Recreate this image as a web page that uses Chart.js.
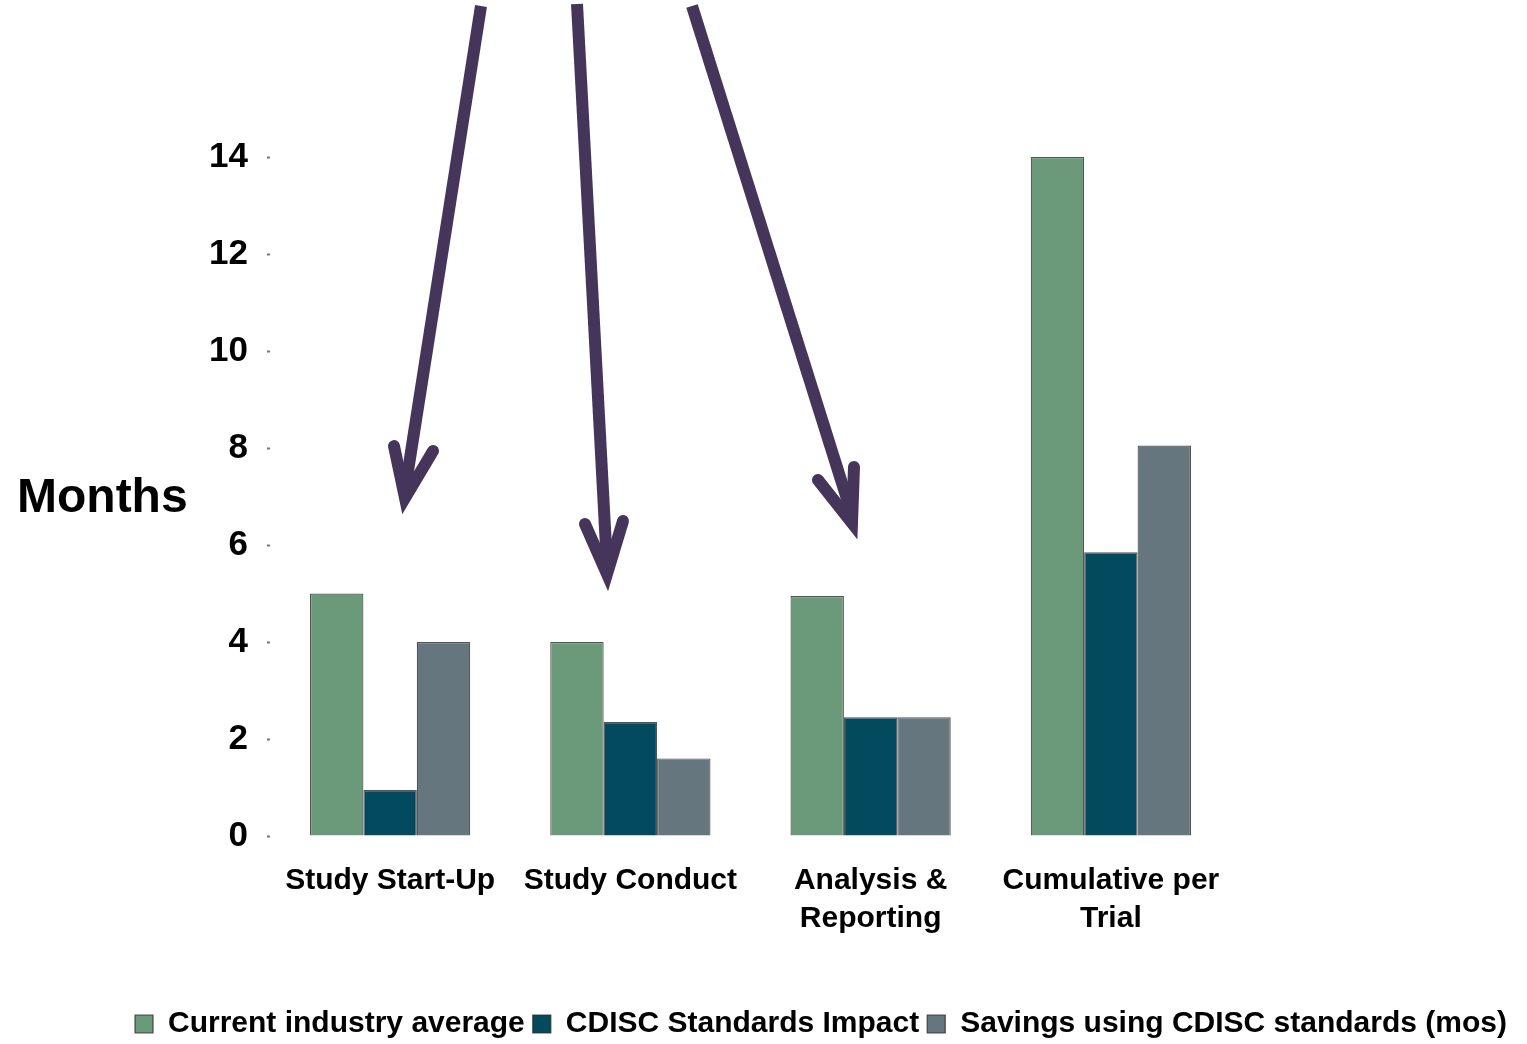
<!DOCTYPE html>
<html>
<head>
<meta charset="utf-8">
<script src="https://cdn.jsdelivr.net/npm/chart.js@4"></script>
<style>
  html, body { margin: 0; padding: 0; background: #ffffff; }
  #wrap { width: 1527px; height: 1044px; }
</style>
</head>
<body>
<div id="wrap"><canvas id="chart"></canvas></div>
<script>
// Chart data
const categories = ['Study Start-Up', 'Study Conduct', ['Analysis &', 'Reporting'], ['Cumulative per', 'Trial']];
const currentAverage = [5.0, 4.0, 4.95, 14.0];
const cdiscImpact = [0.95, 2.35, 2.45, 5.85];
const savings = [4.0, 1.6, 2.45, 8.05];
const seriesLabels = ['Current industry average', 'CDISC Standards Impact', 'Savings using CDISC standards (mos)'];
const yTicks = [0, 2, 4, 6, 8, 10, 12, 14];

const fontFamily = "'Liberation Sans', Arial, sans-serif";
const arrowColor = '#46355b';

// Hand-drawn style arrows pointing down at the first three groups.
// Each: shaft start, tip, two wing ends (pixels).
const arrows = [
  { from: [481, 6], tip: [405, 498], wings: [[394, 446], [433, 451]] },
  { from: [577, 4], tip: [607, 574], wings: [[585, 524], [623, 521]] },
  { from: [692, 6], tip: [852, 523], wings: [[818, 480], [854, 467]] },
];

const arrowPlugin = {
  id: 'arrows',
  afterDraw(chart) {
    const ctx = chart.ctx;
    ctx.save();
    ctx.strokeStyle = arrowColor;
    ctx.lineWidth = 12;
    ctx.miterLimit = 20;
    arrows.forEach((a) => {
      ctx.lineCap = 'butt';
      ctx.beginPath();
      ctx.moveTo(a.from[0], a.from[1]);
      ctx.lineTo(a.tip[0], a.tip[1] - 8);
      ctx.stroke();
      ctx.lineCap = 'round';
      ctx.lineJoin = 'miter';
      ctx.beginPath();
      ctx.moveTo(a.wings[0][0], a.wings[0][1]);
      ctx.lineTo(a.tip[0], a.tip[1]);
      ctx.lineTo(a.wings[1][0], a.wings[1][1]);
      ctx.stroke();
    });
    ctx.restore();
  },
};

// "Months" axis label, drawn horizontally left of the y axis
const monthsLabel = {
  id: 'monthsLabel',
  afterDraw(chart) {
    const ctx = chart.ctx;
    const y = chart.scales.y;
    ctx.save();
    ctx.fillStyle = '#000000';
    ctx.font = `bold 48px ${fontFamily}`;
    ctx.textAlign = 'left';
    ctx.textBaseline = 'middle';
    ctx.fillText('Months', 17, y.getPixelForValue(7) + 2);
    ctx.restore();
  },
};

new Chart(document.getElementById('chart'), {
  type: 'bar',
  data: {
    labels: categories,
    datasets: [
      { label: seriesLabels[0], data: currentAverage, backgroundColor: '#6b9a7b' },
      { label: seriesLabels[1], data: cdiscImpact, backgroundColor: '#044a5f' },
      { label: seriesLabels[2], data: savings, backgroundColor: '#66767f' },
    ].map((d) => ({
      ...d,
      borderColor: 'rgba(40,40,40,0.8)',
      borderWidth: 1.2,
      categoryPercentage: 0.667,
      barPercentage: 1.0,
    })),
  },
  options: {
    responsive: true,
    maintainAspectRatio: false,
    animation: false,
    layout: { padding: { left: 120, right: 5, top: 157, bottom: -5 } },
    scales: {
      x: {
        grid: { display: false, drawTicks: false },
        border: { display: false },
        ticks: {
          color: '#000000',
          font: { family: fontFamily, size: 30, weight: 'bold', lineHeight: 1.27 },
          padding: 26,
          maxRotation: 0,
        },
        afterFit(scale) { scale.height = 165; },
      },
      y: {
        min: 0,
        max: 14,
        afterBuildTicks(scale) { scale.ticks = yTicks.map((v) => ({ value: v })); },
        grid: {
          drawOnChartArea: false,
          tickLength: 12,
          tickColor: '#777777',
          tickWidth: 2,
          tickBorderDash: [0, 9, 3, 100],
        },
        border: { display: false },
        ticks: {
          color: '#000000',
          font: { family: fontFamily, size: 35, weight: 'bold' },
          padding: 10,
        },
        afterFit(scale) { scale.width = 150; },
      },
      yR: {
        position: 'right',
        min: 0,
        max: 14,
        grid: { display: false },
        border: { display: false },
        ticks: { display: false },
        afterFit(scale) { scale.width = 291; },
      },
    },
    plugins: {
      legend: {
        position: 'bottom',
        labels: {
          color: '#000000',
          boxWidth: 18,
          boxHeight: 18,
          padding: 8,
          font: { family: fontFamily, size: 30, weight: 'bold' },
        },
      },
      tooltip: { enabled: false },
    },
  },
  plugins: [arrowPlugin, monthsLabel],
});
</script>
</body>
</html>
